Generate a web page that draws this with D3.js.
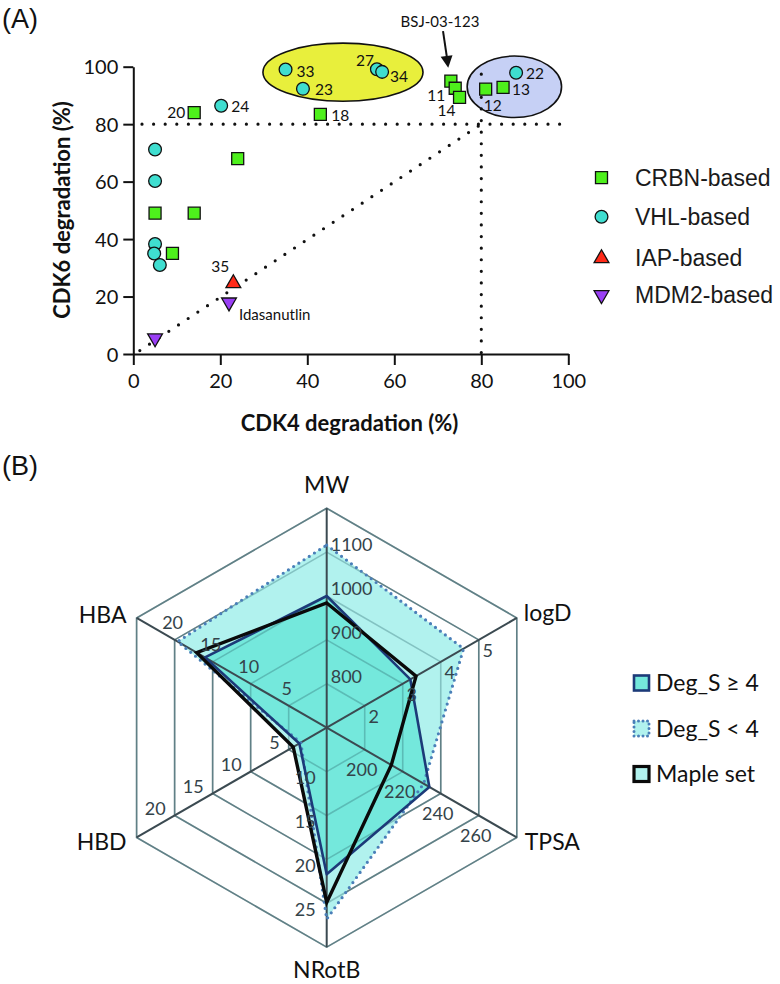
<!DOCTYPE html>
<html><head><meta charset="utf-8">
<script src="https://cdn.jsdelivr.net/npm/d3@7"></script>
<style>body{margin:0;background:#fff}svg{display:block}</style>
</head><body>
<svg id="c" width="780" height="984"></svg>
<script>
// ---------- Panel A data ----------
const crbnX = [14, 43, 24, 5, 14, 9, 73, 74, 75, 81, 85];
const crbnY = [84, 83.4, 68, 49, 49, 35, 95, 92.5, 89.3, 92.2, 92.8];
const vhlX = [35, 39, 56, 57.2, 20.2, 88, 5, 5, 5, 4.8, 6.1];
const vhlY = [99, 92.3, 99.1, 98.2, 86.4, 97.9, 71.2, 60.2, 38.3, 35, 31];
const iapX = [23];
const iapY = [24.6];
const mdm2X = [22, 5];
const mdm2Y = [18, 5.5];
const seriesNames = ["CRBN-based", "VHL-based", "IAP-based", "MDM2-based"];
const axisTicksA = [0, 20, 40, 60, 80, 100];
const labelTexts = ["20","24","18","33","23","27","34","22","13","12","11","14","35","Idasanutlin"];
const labelPtX  = [14, 20.2, 43, 35, 39, 56, 57.2, 88, 85, 81, 74, 75, 23, 22];
const labelPtY  = [84, 86.4, 83.4, 99, 92.3, 99.1, 98.2, 97.9, 92.8, 92.2, 92.5, 89.3, 24.6, 18];

// ---------- Panel B data ----------
const radarAxes = ["MW", "logD", "TPSA", "NRotB", "HBD", "HBA"];
const radarMin = [700, 1, 180, 5, 0, 0];
const radarMax = [1200, 6, 280, 30, 25, 25];
const radarTicks = [[800,900,1000,1100],[2,3,4,5],[200,220,240,260],[10,15,20,25],[5,10,15,20],[5,10,15,20]];
const radarSeriesNames = ["Deg_S \u2265 4", "Deg_S < 4", "Maple set"];
const degHigh = [1000, 3.2, 234, 21.7, 3.6, 16.0];
const degLow = [1116, 4.6, 231, 26.8, 3.4, 19.6];
const mapleSet = [984, 3.35, 214, 24.9, 4.4, 17.1];

// ---------- layout ----------
const svg = d3.select("#c");
const FONT = "Lato, 'Open Sans', sans-serif";
const x = d3.scaleLinear([0, 100], [133.3, 568.3]);
const y = d3.scaleLinear([0, 100], [354, 66.7]);

svg.append("text").attr("x", 2).attr("y", 28).text("(A)")
  .attr("font-family", "'Liberation Sans', Arial, sans-serif").attr("font-size", 27).attr("fill", "#111");
svg.append("text").attr("x", 2).attr("y", 475).text("(B)")
  .attr("font-family", "'Liberation Sans', Arial, sans-serif").attr("font-size", 27).attr("fill", "#111");

const gA = svg.append("g");

// ellipses (annotation) in data units
const ellipses = [{cx: 48.2, cy: 98.1, rx: 18.4, ry: 10.1, fill: "#e8ef3c"},
                  {cx: 87.6, cy: 93.0, rx: 10.85, ry: 10.7, fill: "#c6d0f5"}];
gA.selectAll(".ell").data(ellipses).join("ellipse")
  .attr("cx", d => x(d.cx)).attr("cy", d => y(d.cy))
  .attr("rx", d => x(d.rx) - x(0)).attr("ry", d => y(0) - y(d.ry))
  .attr("fill", d => d.fill).attr("stroke", "#111").attr("stroke-width", 1.6);

// dotted reference lines
const dotted = [[[2, 80], [100, 80]], [[80, 97.4], [80, 0]], [[1.5, 1.2], [80, 80]]];
gA.selectAll(".dl").data(dotted).join("line")
  .attr("x1", d => x(d[0][0])).attr("y1", d => y(d[0][1]))
  .attr("x2", d => x(d[1][0])).attr("y2", d => y(d[1][1]))
  .attr("stroke", "#111").attr("stroke-width", 3.2).attr("stroke-linecap", "round")
  .attr("stroke-dasharray", "0 11.6");

// axes
const ax = gA.append("g").attr("transform", `translate(0,${y(0)})`)
  .call(d3.axisBottom(x).tickValues(axisTicksA).tickSize(11).tickPadding(9).tickSizeOuter(0));
const ay = gA.append("g").attr("transform", `translate(${x(0)},0)`)
  .call(d3.axisLeft(y).tickValues(axisTicksA).tickSize(10).tickPadding(5).tickSizeOuter(0));
[ax, ay].forEach(g => {
  g.selectAll("path,line").attr("stroke", "#111").attr("stroke-width", 2);
  g.selectAll("text").attr("font-family", FONT).attr("font-size", 20).attr("fill", "#111");
});
ay.selectAll("text").attr("dy", "0.36em");

gA.append("text").attr("x", 349.5).attr("y", 431).attr("text-anchor", "middle")
  .attr("font-family", FONT).attr("font-weight", "bold").attr("font-size", 22).attr("fill", "#111")
  .text("CDK4 degradation (%)");
gA.append("text").attr("transform", "translate(70,210) rotate(-90)").attr("text-anchor", "middle")
  .attr("font-family", FONT).attr("font-weight", "bold").attr("font-size", 22).attr("fill", "#111")
  .text("CDK6 degradation (%)");

// markers
const sym = {
  sq: d3.symbol(d3.symbolSquare, 144)(),
  ci: d3.symbol(d3.symbolCircle, 128)(),
  tr: d3.symbol(d3.symbolTriangle, 95)()
};
const series = [
  {xs: crbnX, ys: crbnY, path: sym.sq, fill: "#4ef01c", rot: 0},
  {xs: vhlX, ys: vhlY, path: sym.ci, fill: "#3fded0", rot: 0},
  {xs: iapX, ys: iapY, path: sym.tr, fill: "#ff2a18", rot: 0},
  {xs: mdm2X, ys: mdm2Y, path: sym.tr, fill: "#9a3ff5", rot: 180}
];
series.forEach(s => {
  gA.append("g").selectAll("path").data(s.xs.map((v, i) => [v, s.ys[i]])).join("path")
    .attr("d", s.path)
    .attr("transform", d => `translate(${x(d[0])},${y(d[1])}) rotate(${s.rot})`)
    .attr("fill", s.fill).attr("stroke", "#111").attr("stroke-width", 1.3);
});

// point labels (offsets in px)
const labelOff = [[-9,0,"end"],[10,1,"start"],[11,1,"start"],[11,2,"start"],[12,1,"start"],[-3,-9,"end"],
                  [8,5,"start"],[10,1,"start"],[9,2,"start"],[-2,16,"start"],[-10,7,"end"],[-4,13,"end"],
                  [-4,-17,"end"],[10,12,"start"]];
gA.append("g").selectAll("text").data(labelTexts).join("text")
  .attr("x", (d, i) => x(labelPtX[i]) + labelOff[i][0])
  .attr("y", (d, i) => y(labelPtY[i]) + labelOff[i][1])
  .attr("dy", "0.35em").attr("text-anchor", (d, i) => labelOff[i][2])
  .attr("font-family", FONT).attr("font-size", (d) => d.length > 3 ? 15 : 15.5).attr("fill", "#111")
  .text(d => d);

// BSJ-03-123 annotation with arrow
gA.append("text").attr("x", x(70.5)).attr("y", y(115.5)).attr("dy", "0.35em").attr("text-anchor", "middle")
  .attr("font-family", FONT).attr("font-size", 15).attr("fill", "#111").text("BSJ-03-123");
const ar0 = [71.2, 112.4], ar1 = [72.4, 99.6];
gA.append("line").attr("x1", x(ar0[0])).attr("y1", y(ar0[1])).attr("x2", x(ar1[0]) - 1.1).attr("y2", y(ar1[1]) - 9)
  .attr("stroke", "#111").attr("stroke-width", 2);
{
  const tx = x(ar1[0]), ty = y(ar1[1]);
  const ang = Math.atan2(ty - y(ar0[1]), tx - x(ar0[0]));
  const L = 12, W = 6;
  const bx = tx - L * Math.cos(ang), by = ty - L * Math.sin(ang);
  const px = -Math.sin(ang) * W, py = Math.cos(ang) * W;
  gA.append("path").attr("d", `M${tx},${ty}L${bx + px},${by + py}L${bx - px},${by - py}Z`).attr("fill", "#111");
}

// legend A
const legY = [177.7, 216.7, 258.3, 295];
const legA = gA.append("g");
series.forEach((s, i) => {
  legA.append("path").attr("d", s.path).attr("transform", `translate(601.5,${legY[i]}) rotate(${s.rot})`)
    .attr("fill", s.fill).attr("stroke", "#111").attr("stroke-width", 1.3);
  legA.append("text").attr("x", 635).attr("y", legY[i]).attr("dy", "0.35em")
    .attr("font-family", "'Liberation Sans', Arial, sans-serif").attr("font-size", 23).attr("fill", "#1a1a1a")
    .text(seriesNames[i]);
});

// ---------- Panel B radar ----------
const cx = 326.7, cy = 727.7, R = 219.5;
const gB = svg.append("g");
const rScales = radarAxes.map((a, i) => d3.scaleLinear([radarMin[i], radarMax[i]], [0, R]));
const ang = i => i * Math.PI / 3;
const pt = (i, r) => [cx + r * Math.sin(ang(i)), cy - r * Math.cos(ang(i))];
const rings = [1, 2, 3, 4, 5].map(k => k * R / 5);
const ringPath = r => "M" + radarAxes.map((a, i) => pt(i, r).join(",")).join("L") + "Z";
const polyPath = vals => "M" + vals.map((v, i) => pt(i, rScales[i](v)).join(",")).join("L") + "Z";

gB.selectAll(".ring").data(rings).join("path").attr("d", ringPath)
  .attr("fill", "none").attr("stroke", "#7b8d93").attr("stroke-width", 1.6);

// fills
gB.append("path").attr("d", polyPath(degLow)).attr("fill", "#b1f2ee");
gB.append("path").attr("d", polyPath(mapleSet)).attr("fill", "#b1f2ee");
gB.append("path").attr("d", polyPath(degHigh)).attr("fill", "#74e8dc");

// grid on top (faint)
gB.selectAll(".ring2").data(rings).join("path").attr("d", ringPath)
  .attr("fill", "none").attr("stroke", "#2f6b70").attr("stroke-opacity", 0.35).attr("stroke-width", 1.6);
gB.selectAll(".spoke").data(radarAxes).join("line")
  .attr("x1", cx).attr("y1", cy)
  .attr("x2", (d, i) => pt(i, R)[0]).attr("y2", (d, i) => pt(i, R)[1])
  .attr("stroke", "#3b4a51").attr("stroke-width", 2);

// outlines
gB.append("path").attr("d", polyPath(degLow)).attr("fill", "none")
  .attr("stroke", "#4a7fb8").attr("stroke-width", 3.2).attr("stroke-linecap", "round").attr("stroke-dasharray", "0 6.2");
gB.append("path").attr("d", polyPath(degHigh)).attr("fill", "none")
  .attr("stroke", "#1c3a78").attr("stroke-width", 2.6).attr("stroke-linejoin", "round");
gB.append("path").attr("d", polyPath(mapleSet)).attr("fill", "none")
  .attr("stroke", "#0a0a0a").attr("stroke-width", 3.4).attr("stroke-linejoin", "miter");

// tick labels
const tickOff = [[4, -7, "start"], [9, 11, "middle"], [-3, 20, "middle"], [-11, 6, "end"], [-9, -7, "end"], [-2, -17, "middle"]];
radarAxes.forEach((a, i) => {
  gB.append("g").selectAll("text").data(radarTicks[i]).join("text")
    .attr("x", d => pt(i, rScales[i](d))[0] + tickOff[i][0])
    .attr("y", d => pt(i, rScales[i](d))[1] + tickOff[i][1])
    .attr("dy", "0.35em").attr("text-anchor", tickOff[i][2])
    .attr("font-family", FONT).attr("font-size", 18).attr("fill", "#34434a")
    .text(d => d);
});

// axis names
const nameOff = [[0, -23, "middle"], [7, -5, "start"], [8, 4, "start"], [0, 23, "middle"], [-10, 4, "end"], [-10, -3, "end"]];
gB.selectAll(".an").data(radarAxes).join("text")
  .attr("x", (d, i) => pt(i, R)[0] + nameOff[i][0])
  .attr("y", (d, i) => pt(i, R)[1] + nameOff[i][1])
  .attr("dy", "0.35em").attr("text-anchor", (d, i) => nameOff[i][2])
  .attr("font-family", FONT).attr("font-size", 23).attr("fill", "#111").text(d => d);

// legend B
const legBY = [683, 728.5, 774];
const legBStyle = [
  {fill: "#74e8dc", stroke: "#1c3a78", dash: null, w: 2.6},
  {fill: "#b1f2ee", stroke: "#4a7fb8", dash: "0 4.5", w: 3},
  {fill: "#b1f2ee", stroke: "#0a0a0a", dash: null, w: 3.2}
];
radarSeriesNames.forEach((n, i) => {
  const s = legBStyle[i];
  const r = gB.append("rect").attr("x", 634).attr("y", legBY[i] - 7.5).attr("width", 15).attr("height", 15)
    .attr("fill", s.fill).attr("stroke", s.stroke).attr("stroke-width", s.w);
  if (s.dash) r.attr("stroke-dasharray", s.dash).attr("stroke-linecap", "round");
  gB.append("text").attr("x", 656).attr("y", legBY[i]).attr("dy", "0.35em")
    .attr("font-family", FONT).attr("font-size", 23).attr("fill", "#111").text(n);
});
</script>
</body></html>
